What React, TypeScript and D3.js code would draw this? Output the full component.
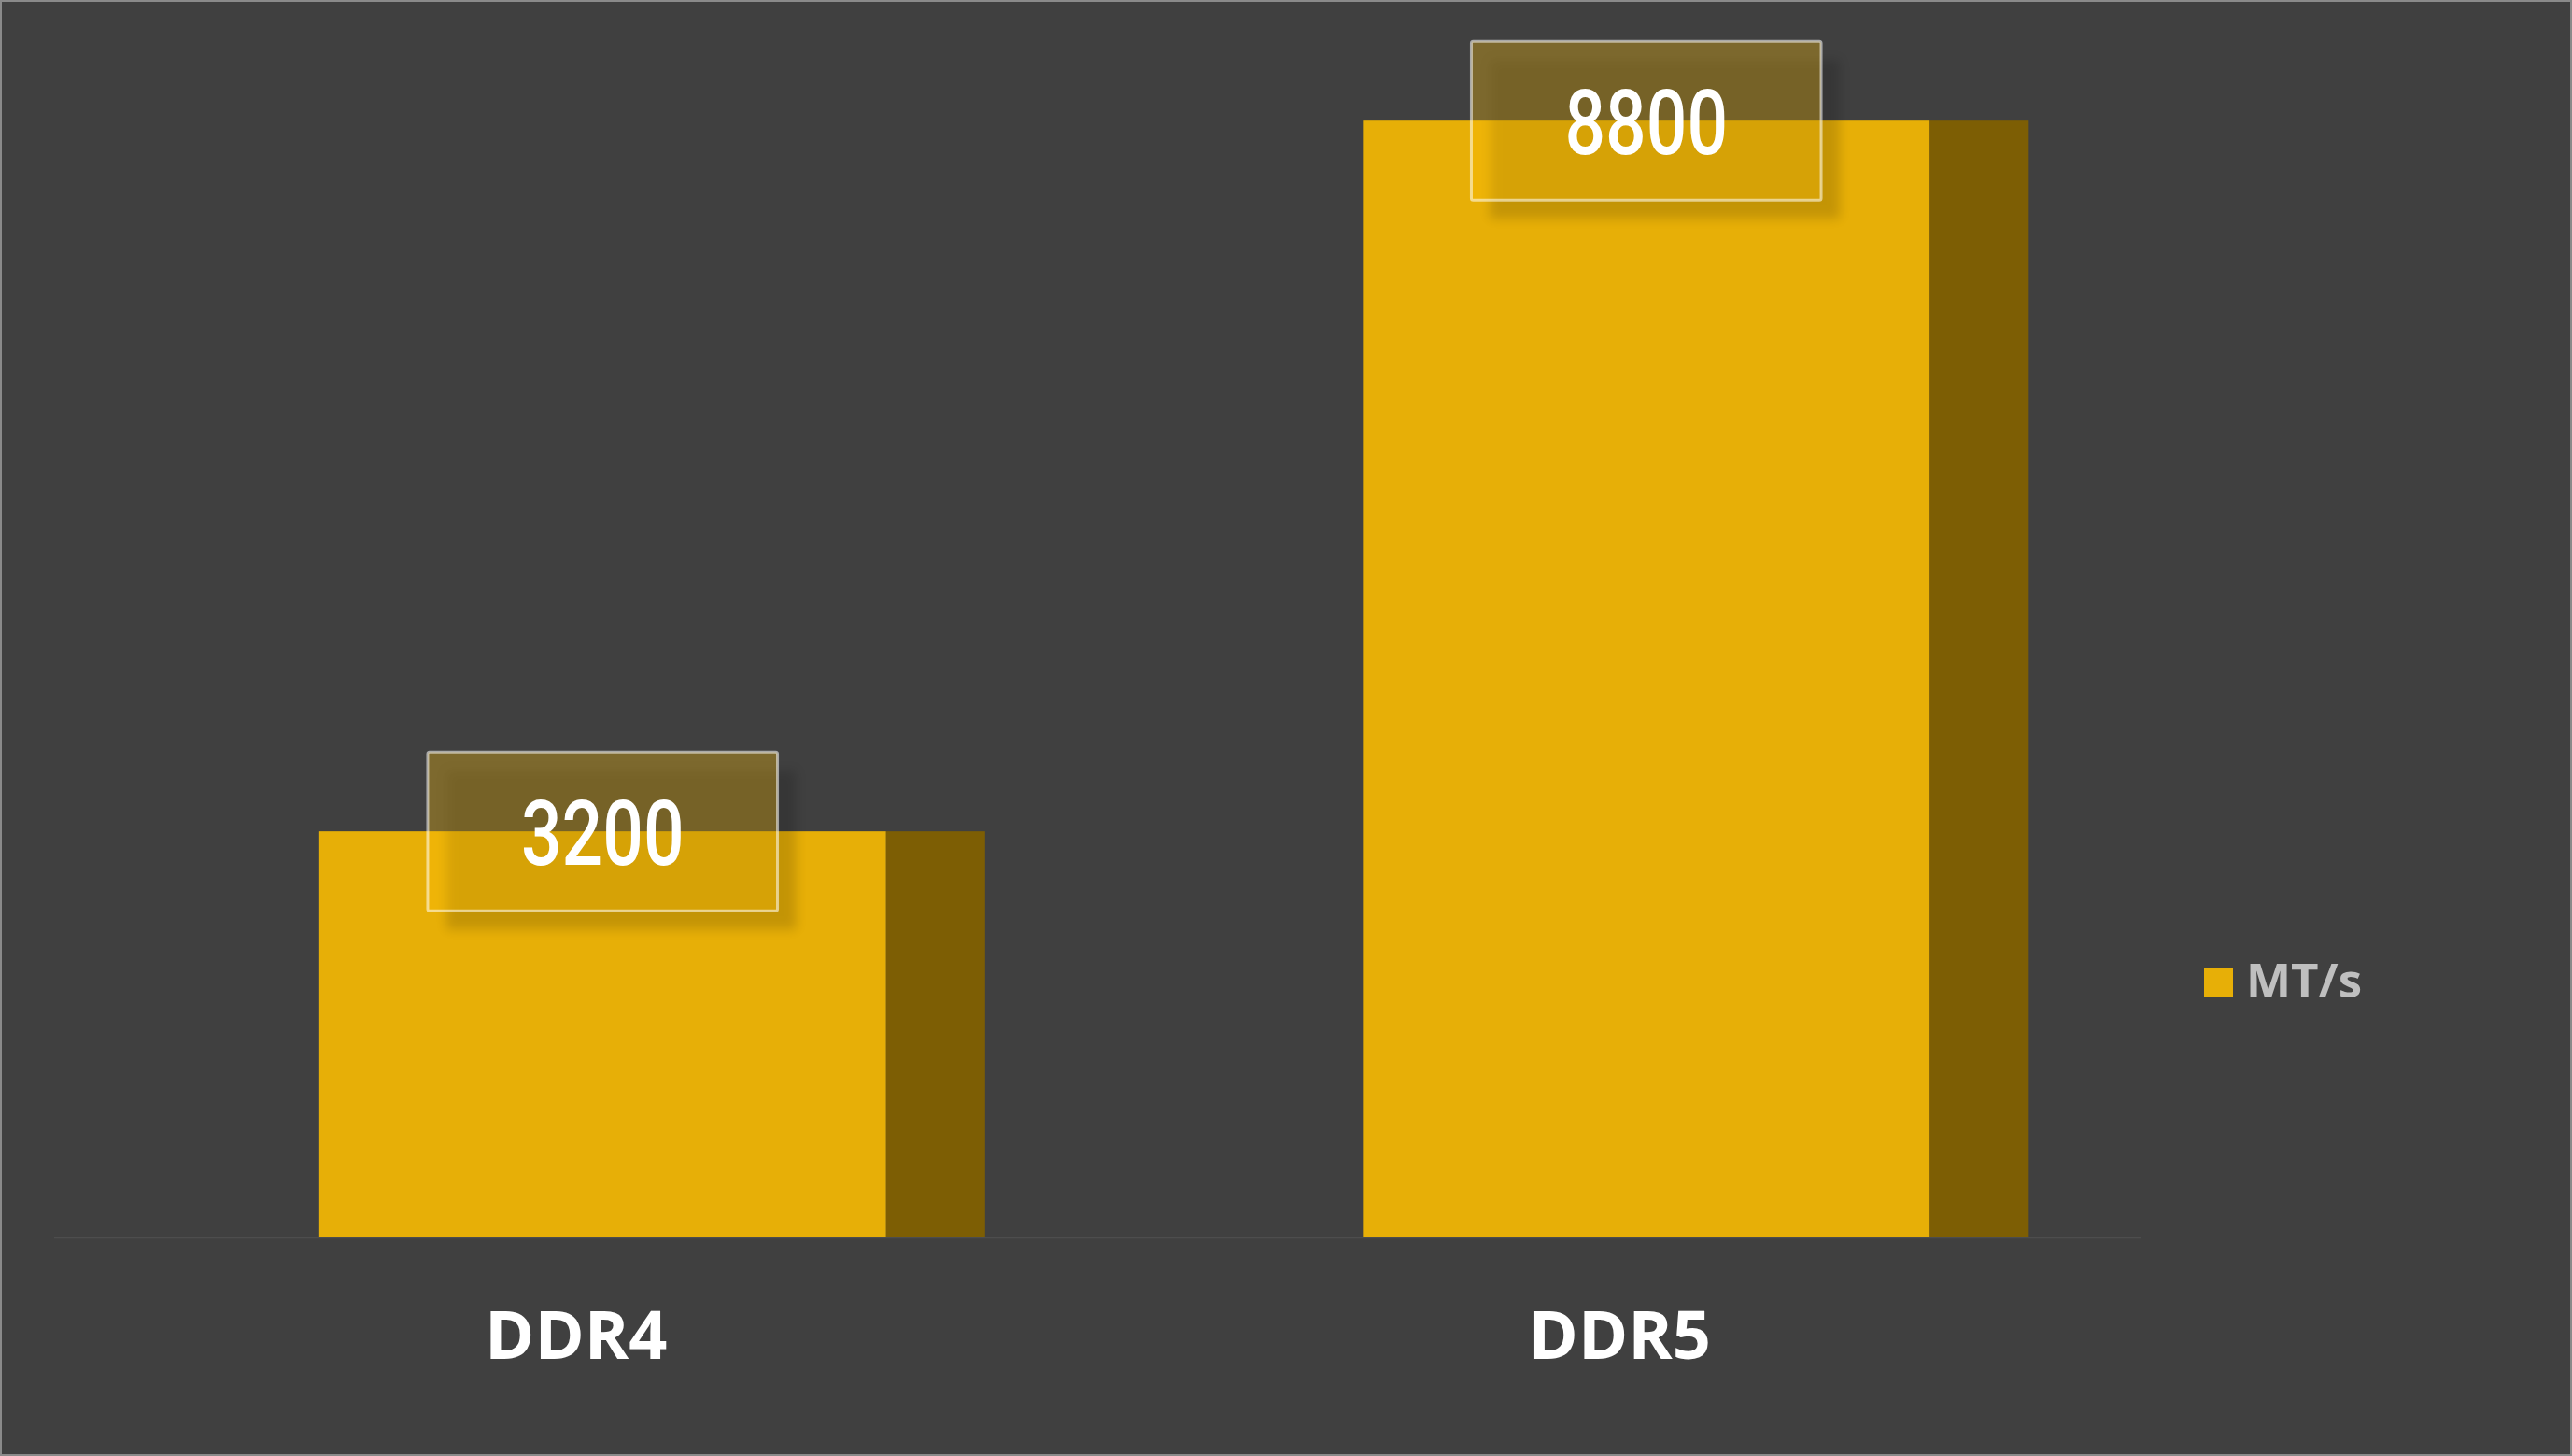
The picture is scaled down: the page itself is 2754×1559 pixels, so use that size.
import React, { useEffect, useRef } from 'react';
import * as d3 from 'd3';

const categories = ['DDR4', 'DDR5'];
const speeds = [3200, 8800];
const seriesName = 'MT/s';

const W = 2754;
const H = 1559;

export default function App() {
  const svgRef = useRef<SVGSVGElement>(null);

  useEffect(() => {
    if (!svgRef.current) return;
    const svg = d3.select(svgRef.current);
    svg.selectAll('*').remove();

    const gold = '#E7AF07';
    const side = '#7D5E04';

    const x = d3.scaleBand<string>().domain(categories).range([58, 2293]).padding(0);
    const y = d3.scaleLinear().domain([0, 9000]).range([1325, 102]);
    const bw = x.bandwidth();

    // background + frame
    svg.append('rect').attr('width', W).attr('height', H).attr('fill', '#404040');
    svg.append('rect')
      .attr('x', 1).attr('y', 1).attr('width', W - 2).attr('height', H - 2)
      .attr('fill', 'none').attr('stroke', '#8a8a8a').attr('stroke-width', 2);

    const defs = svg.append('defs');
    defs.append('filter').attr('id', 'blur')
      .attr('x', '-20%').attr('y', '-20%').attr('width', '140%').attr('height', '140%')
      .append('feGaussianBlur').attr('stdDeviation', 6);

    const data = categories.map((c, i) => ({ cat: c, value: speeds[i] }));

    // baseline
    svg.append('line')
      .attr('x1', x.range()[0]).attr('x2', x.range()[1])
      .attr('y1', y(0) + 0.5).attr('y2', y(0) + 0.5)
      .attr('stroke', '#4d4d4d').attr('stroke-width', 1.5);

    const bars = svg.append('g').selectAll('g').data(data).join('g');

    // dark side part
    bars.append('rect')
      .attr('x', d => x(d.cat)! + bw * 0.797)
      .attr('width', bw * (0.892 - 0.797))
      .attr('y', d => y(d.value))
      .attr('height', d => y(0) - y(d.value))
      .attr('fill', side);

    // front part
    bars.append('rect')
      .attr('x', d => x(d.cat)! + bw * 0.254)
      .attr('width', bw * (0.797 - 0.254))
      .attr('y', d => y(d.value))
      .attr('height', d => y(0) - y(d.value))
      .attr('fill', gold);

    // data label callouts
    const boxH = 170;
    const labelCx = (d: { cat: string }) => x(d.cat)! + bw * (0.254 + 0.797) / 2;

    const labels = svg.append('g').selectAll('g').data(data).join('g')
      .attr('transform', d => `translate(${labelCx(d)},${y(d.value)})`);

    const shadow = labels.append('rect').attr('fill', '#000').attr('opacity', 0.15)
      .attr('filter', 'url(#blur)');
    const box = labels.append('rect')
      .attr('rx', 2)
      .attr('fill', 'rgb(255,192,10)').attr('fill-opacity', 0.32)
      .attr('stroke', '#fff').attr('stroke-opacity', 0.55).attr('stroke-width', 3);

    const txt = labels.append('text')
      .attr('transform', 'translate(0,36) scale(0.8,1)')
      .attr('text-anchor', 'middle')
      .style('font-family', 'Roboto, sans-serif')
      .style('font-weight', 500)
      .style('font-size', '96px')
      .style('fill', '#ffffff')
      .text(d => String(d.value));

    // box size follows the label text width
    txt.each(function () {
      const tw = (this as SVGTextElement).getComputedTextLength() * 0.8;
      const bwBox = tw + 200;
      const g = d3.select((this as SVGTextElement).parentNode as SVGGElement);
      g.selectAll<SVGRectElement, unknown>('rect')
        .attr('width', bwBox).attr('height', boxH);
    });
    box.attr('x', function () { return -(+d3.select(this).attr('width')) / 2; })
      .attr('y', -boxH / 2);
    shadow.attr('x', function () { return -(+d3.select(this).attr('width')) / 2 + 20; })
      .attr('y', -boxH / 2 + 20);

    // category labels
    svg.append('g').selectAll('text').data(categories).join('text')
      .attr('x', d => x(d)! + bw / 2)
      .attr('y', 1455)
      .attr('text-anchor', 'middle')
      .style('font-family', '"Open Sans", sans-serif')
      .style('font-weight', 700)
      .style('font-size', '72px')
      .style('fill', '#ffffff')
      .text(d => d);

    // legend
    const legend = svg.append('g').attr('transform', 'translate(2360,1036)');
    legend.append('rect').attr('width', 31).attr('height', 31).attr('fill', gold);
    legend.append('text')
      .attr('x', 45).attr('y', 32)
      .style('font-family', '"Open Sans", sans-serif')
      .style('font-weight', 700)
      .style('font-size', '51px')
      .style('fill', '#bfbfbf')
      .text(seriesName);
  }, []);

  return (
    <svg
      ref={svgRef}
      width={W}
      height={H}
      viewBox={`0 0 ${W} ${H}`}
      style={{ position: 'fixed', left: 0, top: 0, display: 'block' }}
    />
  );
}
